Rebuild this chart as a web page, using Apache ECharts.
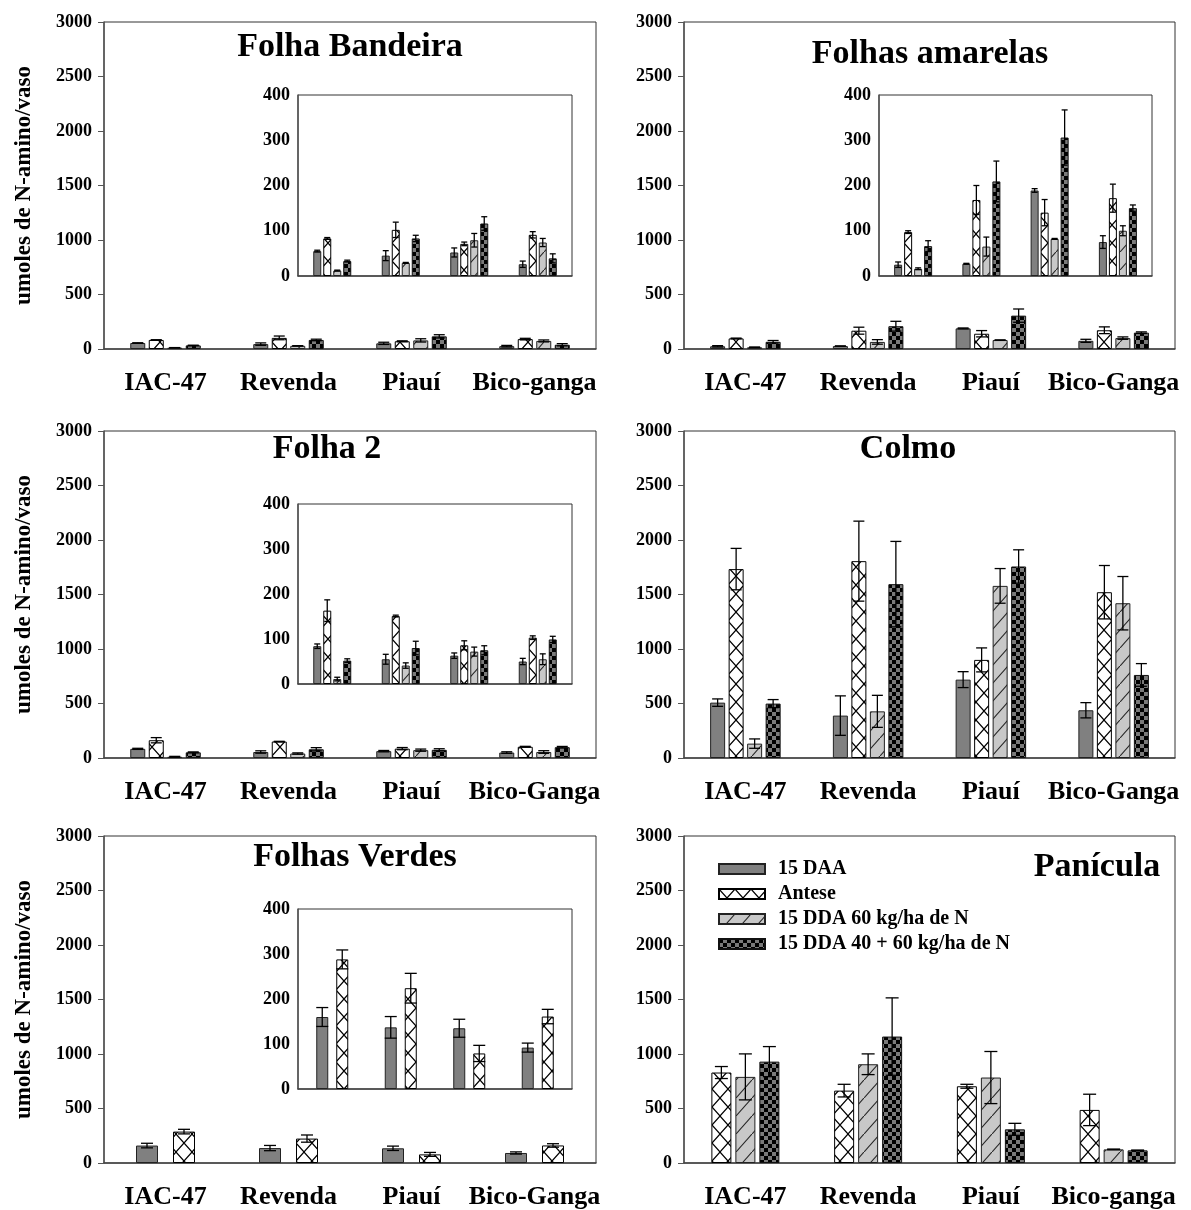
<!DOCTYPE html>
<html>
<head>
<meta charset="utf-8">
<script src="https://cdn.jsdelivr.net/npm/echarts@6/dist/echarts.min.js"></script>
<style>
html,body{margin:0;padding:0;background:#fff;}
#chart{width:1191px;height:1210px;}
</style>
</head>
<body>
<div id="chart"></div>
<script>
// ---------------- DATA ----------------
const catsLower = ['IAC-47', 'Revenda', 'Piauí', 'Bico-ganga'];
const catsUpper = ['IAC-47', 'Revenda', 'Piauí', 'Bico-Ganga'];
const seriesNames = ['15 DAA', 'Antese', '15 DDA 60 kg/ha de N', '15 DDA 40 + 60 kg/ha de N'];
const mainTicks = [0, 500, 1000, 1500, 2000, 2500, 3000];
const insetTicks = [0, 100, 200, 300, 400];

// Folha Bandeira
const fbDaa = [55, 45, 52, 26];        const fbDaaErr = [2, 11, 10, 7];
const fbAntese = [83, 102, 71, 91];    const fbAnteseErr = [2, 17, 4, 7];
const fbDda60 = [12, 29, 79, 74];      const fbDda60Err = [1, 1, 15, 9];
const fbDda4060 = [33, 83, 116, 39];   const fbDda4060Err = [2, 7, 15, 10];

// Folhas amarelas
const faDaa = [25, 27, 189, 75];       const faDaaErr = [6, 1, 4, 14];
const faAntese = [97, 168, 140, 172];  const faAnteseErr = [3, 32, 29, 31];
const faDda60 = [16, 65, 82, 100];     const faDda60Err = [2, 21, 1, 11];
const faDda4060 = [66, 209, 306, 150]; const faDda4060Err = [12, 45, 61, 7];

// Folha 2
const f2Daa = [84, 55, 63, 50];        const f2DaaErr = [5, 11, 6, 7];
const f2Antese = [163, 151, 86, 103];  const f2AnteseErr = [24, 2, 10, 4];
const f2Dda60 = [11, 41, 72, 55];      const f2Dda60Err = [4, 6, 10, 12];
const f2Dda4060 = [52, 80, 75, 99];    const f2Dda4060Err = [4, 15, 10, 7];

// Colmo
const coDaa = [508, 389, 719, 438];      const coDaaErr = [34, 181, 73, 70];
const coAntese = [1733, 1806, 900, 1521]; const coAnteseErr = [190, 367, 110, 245];
const coDda60 = [132, 428, 1579, 1420];  const coDda60Err = [43, 147, 159, 245];
const coDda4060 = [499, 1595, 1757, 762]; const coDda4060Err = [37, 392, 153, 104];

// Folhas Verdes
const fvDaa = [160, 137, 135, 92];     const fvDaaErr = [21, 24, 20, 10];
const fvAntese = [288, 224, 79, 161];  const fvAnteseErr = [21, 33, 18, 16];

// Panícula
const paAntese = [830, 664, 704, 487];   const paAnteseErr = [55, 58, 18, 144];
const paDda60 = [790, 906, 784, 125];    const paDda60Err = [211, 95, 239, 3];
const paDda4060 = [930, 1160, 309, 116]; const paDda4060Err = [138, 355, 55, 3];

// ---------------- PATTERNS ----------------
function makeCanvas(w, h) { const c = document.createElement('canvas'); c.width = w; c.height = h; return c; }
function patCross() {
  const c = makeCanvas(16, 18), g = c.getContext('2d');
  g.fillStyle = '#fff'; g.fillRect(0, 0, 16, 18);
  g.strokeStyle = '#000'; g.lineWidth = 1.2;
  g.beginPath(); g.moveTo(0, 0); g.lineTo(16, 18); g.moveTo(16, 0); g.lineTo(0, 18); g.stroke();
  return c;
}
function patDiag() {
  const c = makeCanvas(16, 18), g = c.getContext('2d');
  g.fillStyle = '#c8c8c8'; g.fillRect(0, 0, 16, 18);
  g.strokeStyle = '#222'; g.lineWidth = 1.1;
  g.beginPath(); g.moveTo(-1, 19.1); g.lineTo(17, -1.1); g.stroke();
  return c;
}
function patChecker() {
  const c = makeCanvas(8, 8), g = c.getContext('2d');
  g.fillStyle = '#7a7a7a'; g.fillRect(0, 0, 8, 8);
  g.fillStyle = '#000'; g.fillRect(0, 0, 4, 4); g.fillRect(4, 4, 4, 4);
  return c;
}
const styles = {
  '15 DAA': { color: '#808080', borderColor: '#222', borderWidth: 1 },
  'Antese': { color: { image: patCross(), repeat: 'repeat' }, borderColor: '#000', borderWidth: 1 },
  '15 DDA 60 kg/ha de N': { color: { image: patDiag(), repeat: 'repeat' }, borderColor: '#222', borderWidth: 1 },
  '15 DDA 40 + 60 kg/ha de N': { color: { image: patChecker(), repeat: 'repeat' }, borderColor: '#111', borderWidth: 1 }
};

// ---------------- BUILD ----------------
const FONT = "'Liberation Serif', 'Times New Roman', serif";
const grids = [], xAxes = [], yAxes = [], series = [];

function addGrid(box, cats, isInset, yTitle) {
  const gi = grids.length;
  grids.push({ left: box[0], top: box[1], width: box[2], height: box[3], show: true,
    borderColor: '#333', borderWidth: 1, backgroundColor: isInset ? '#fff' : 'transparent', containLabel: false, z: isInset ? 3 : 0 });
  const ticks = isInset ? insetTicks : mainTicks;
  xAxes.push({ type: 'category', gridIndex: gi, data: cats, z: isInset ? 6 : 2,
    axisLine: { lineStyle: { color: '#444', width: 1.5 } },
    axisTick: { alignWithLabel: true, length: 5, lineStyle: { color: '#444' } },
    axisLabel: { show: !isInset, interval: 0, fontFamily: FONT, fontWeight: 'bold', fontSize: 26, color: '#000', margin: 21 } });
  yAxes.push({ type: 'value', gridIndex: gi, min: ticks[0], max: ticks[ticks.length - 1],
    interval: ticks[1] - ticks[0], z: isInset ? 6 : 2,
    splitLine: { show: false },
    axisLine: { show: true, lineStyle: { color: '#555', width: 1.5 } },
    axisTick: { show: true, length: isInset ? 0 : 6, lineStyle: { color: '#555' } },
    axisLabel: { fontFamily: FONT, fontWeight: 'bold', fontSize: 18, color: '#000', margin: isInset ? 8 : 12,
      formatter: function (v) { return String(v); } },
    name: yTitle || '', nameLocation: 'middle', nameRotate: 90, nameGap: 68,
    nameTextStyle: { fontFamily: FONT, fontWeight: 'bold', fontSize: 23, color: '#000' } });
  return gi;
}

function addBars(gi, names, vals, errs, bw, gap, cap, isInset) {
  const n = names.length;
  names.forEach((nm, i) => {
    series.push({ type: 'bar', name: nm, xAxisIndex: gi, yAxisIndex: gi, data: vals[i],
      barWidth: bw, barGap: (gap / bw * 100) + '%', itemStyle: styles[nm], z: isInset ? 7 : 3, silent: true });
    const offset = (i - (n - 1) / 2) * (bw + gap);
    series.push({ type: 'custom', xAxisIndex: gi, yAxisIndex: gi, z: isInset ? 8 : 4, silent: true,
      data: vals[i].map((v, k) => [k, v, errs[i][k]]),
      encode: { x: 0, y: 1 },
      renderItem: function (params, api) {
        const ci = api.value(0), v = api.value(1), e = api.value(2);
        const t = api.coord([ci, v + e]), b = api.coord([ci, Math.max(0, v - e)]);
        const x = t[0] + offset;
        const st = { stroke: '#000', lineWidth: 1.3 };
        return { type: 'group', children: [
          { type: 'line', shape: { x1: x, y1: t[1], x2: x, y2: b[1] }, style: st },
          { type: 'line', shape: { x1: x - cap, y1: t[1], x2: x + cap, y2: t[1] }, style: st },
          { type: 'line', shape: { x1: x - cap, y1: b[1], x2: x + cap, y2: b[1] }, style: st }
        ] };
      } });
  });
}

const Y_TITLE = 'umoles de N-amino/vaso';
const four = seriesNames;

// Panel 1 - Folha Bandeira
let g = addGrid([104, 22, 492, 327], catsLower, false, Y_TITLE);
addBars(g, four, [fbDaa, fbAntese, fbDda60, fbDda4060], [fbDaaErr, fbAnteseErr, fbDda60Err, fbDda4060Err], 15, 3.5, 5.5, false);
g = addGrid([298, 95, 274, 181], catsLower, true);
addBars(g, four, [fbDaa, fbAntese, fbDda60, fbDda4060], [fbDaaErr, fbAnteseErr, fbDda60Err, fbDda4060Err], 8, 2, 3, true);

// Panel 2 - Folhas amarelas
g = addGrid([684, 22, 491, 327], catsUpper, false);
addBars(g, four, [faDaa, faAntese, faDda60, faDda4060], [faDaaErr, faAnteseErr, faDda60Err, faDda4060Err], 15, 3.5, 5.5, false);
g = addGrid([879, 95, 273, 181], catsUpper, true);
addBars(g, four, [faDaa, faAntese, faDda60, faDda4060], [faDaaErr, faAnteseErr, faDda60Err, faDda4060Err], 8, 2, 3, true);

// Panel 3 - Folha 2
g = addGrid([104, 431, 492, 327], catsUpper, false, Y_TITLE);
addBars(g, four, [f2Daa, f2Antese, f2Dda60, f2Dda4060], [f2DaaErr, f2AnteseErr, f2Dda60Err, f2Dda4060Err], 15, 3.5, 5.5, false);
g = addGrid([298, 504, 274, 180], catsUpper, true);
addBars(g, four, [f2Daa, f2Antese, f2Dda60, f2Dda4060], [f2DaaErr, f2AnteseErr, f2Dda60Err, f2Dda4060Err], 8, 2, 3, true);

// Panel 4 - Colmo
g = addGrid([684, 431, 491, 327], catsUpper, false);
addBars(g, four, [coDaa, coAntese, coDda60, coDda4060], [coDaaErr, coAnteseErr, coDda60Err, coDda4060Err], 15, 3.5, 5.5, false);

// Panel 5 - Folhas Verdes
g = addGrid([104, 836, 492, 327], catsUpper, false, Y_TITLE);
addBars(g, [four[0], four[1]], [fvDaa, fvAntese], [fvDaaErr, fvAnteseErr], 22, 15, 6, false);
g = addGrid([298, 909, 274, 180], catsUpper, true);
addBars(g, [four[0], four[1]], [fvDaa, fvAntese], [fvDaaErr, fvAnteseErr], 12, 8, 6, true);

// Panel 6 - Panícula
g = addGrid([684, 836, 491, 327], catsLower, false);
addBars(g, [four[1], four[2], four[3]], [paAntese, paDda60, paDda4060], [paAnteseErr, paDda60Err, paDda4060Err], 20, 4, 6.5, false);

const titleStyle = { fontFamily: FONT, fontWeight: 'bold', fontSize: 34, color: '#000' };
const titles = [
  ['Folha Bandeira', 350, 30], ['Folhas amarelas', 930, 37], ['Folha 2', 327, 432],
  ['Colmo', 908, 432], ['Folhas Verdes', 355, 840], ['Panícula', 1097, 850]
].map(t => ({ text: t[0], left: t[1], top: t[2], textAlign: 'center', textStyle: titleStyle, padding: 0 }));

const option = {
  animation: false,
  backgroundColor: '#fff',
  title: titles,
  legend: {
    data: seriesNames, orient: 'vertical', left: 718, top: 859, itemWidth: 46, itemHeight: 10, itemGap: 5,
    icon: 'rect', selectedMode: false, padding: 0,
    textStyle: { fontFamily: FONT, fontWeight: 'bold', fontSize: 20, color: '#000', padding: [0, 0, 0, 8] }
  },
  grid: grids, xAxis: xAxes, yAxis: yAxes, series: series
};
const chart = echarts.init(document.getElementById('chart'), null, { renderer: 'canvas' });
chart.setOption(option);
</script>
</body>
</html>
